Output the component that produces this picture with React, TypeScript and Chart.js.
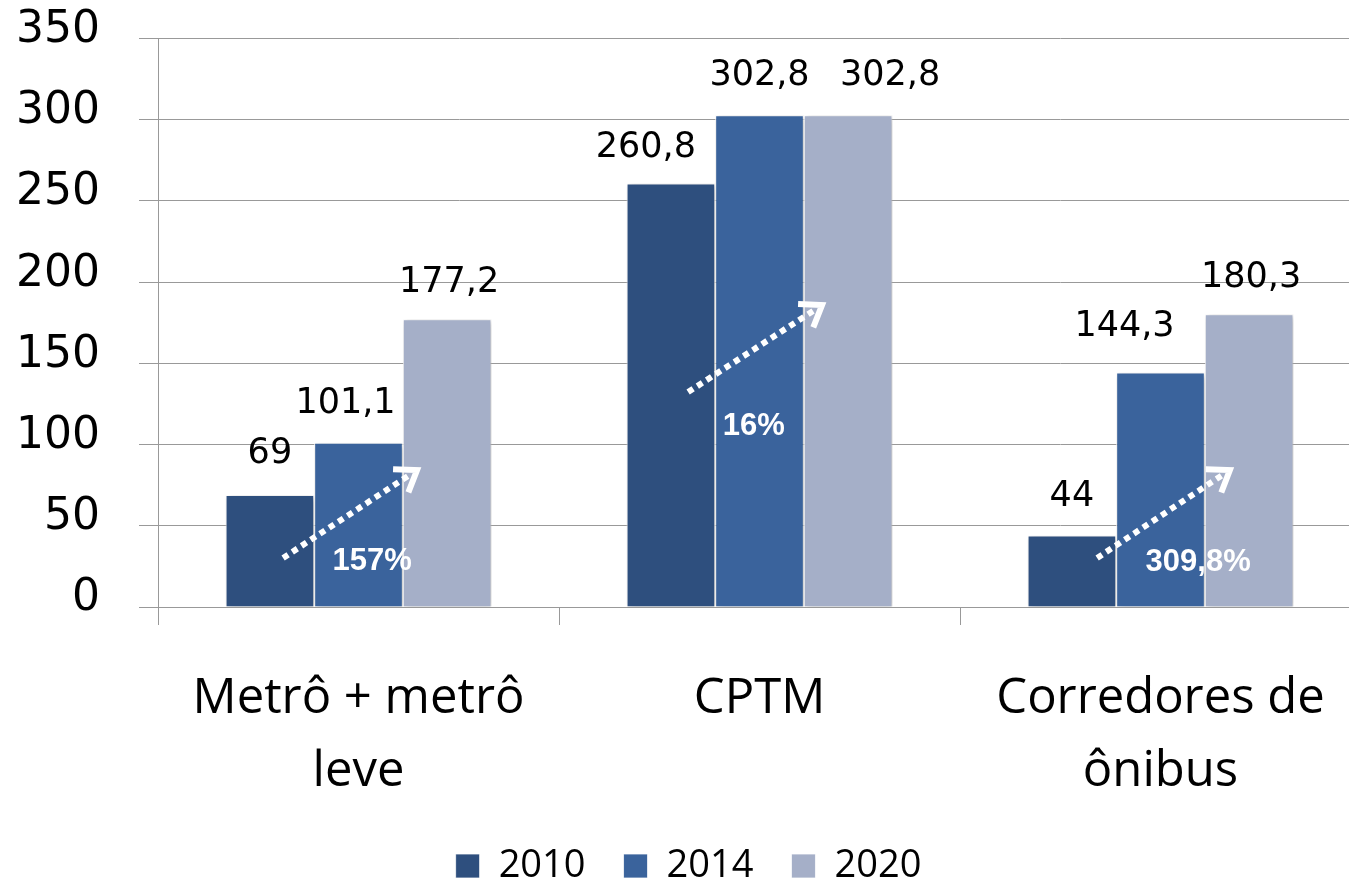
import React, { useEffect, useRef } from "react";
import { Chart, registerables } from "chart.js";

Chart.register(...registerables);

// ---------- data ----------
const CATEGORIES: string[][] = [["Metrô + metrô", "leve"], ["CPTM"], ["Corredores de", "ônibus"]];
const SERIES_NAMES = ["2010", "2014", "2020"];
const VALUES_2010 = [69, 260.8, 44];
const VALUES_2014 = [101.1, 302.8, 144.3];
const VALUES_2020 = [177.2, 302.8, 180.3];
const SERIES_COLORS = ["#2E4F7E", "#3A639C", "#A5AFC8"];
const Y_TICKS = [0, 50, 100, 150, 200, 250, 300, 350];
const GROWTH_LABELS = ["157%", "16%", "309,8%"];

// ---------- annotation layout (offsets, not data) ----------
const LABEL_DX = [
  [0, -25, 0],
  [-13, 0, -36],
  [2, 42, 2],
];
const LABEL_GAP = [
  [32, 26, 30],
  [30, 30, 37],
  [27, 30, 27],
];
const ARROW_FROM_DX = [-0.188, -0.178, -0.158];
const ARROW_FROM_Y = [30.2, 132.3, 30.2];
const ARROW_TO_DX = [0.146, 0.156, 0.173];
const ARROW_TO_Y = [84.3, 185.9, 84.3];
const PCT_DX = [0.034, -0.014, 0.094];
const PCT_Y = [28.3, 111.4, 27.7];

const fmt = (v: number) => String(v).replace(".", ",");

const shadowPlugin = {
  id: "barShadow",
  beforeDatasetsDraw(chart: any) {
    const ctx = chart.ctx;
    ctx.save();
    ctx.shadowColor = "rgba(0,0,0,0.28)";
    ctx.shadowBlur = 6;
    ctx.shadowOffsetX = 2;
    ctx.shadowOffsetY = 2;
  },
  afterDatasetsDraw(chart: any) {
    chart.ctx.restore();
  },
};

const annotationPlugin = {
  id: "annotations",
  afterDraw(chart: any) {
    const ctx: CanvasRenderingContext2D = chart.ctx;
    const xs = chart.scales.x;
    const ys = chart.scales.y;
    ctx.save();
    ctx.font = '35px "DejaVu Sans"';
    ctx.textAlign = "center";
    ctx.textBaseline = "alphabetic";
    ctx.fillStyle = "#000";
    chart.data.datasets.forEach((ds: any, di: number) => {
      const meta = chart.getDatasetMeta(di);
      meta.data.forEach((bar: any, i: number) => {
        const p = bar.getProps(["x", "y"], true);
        ctx.fillText(fmt(ds.data[i]), p.x + LABEL_DX[di][i], p.y - LABEL_GAP[di][i]);
      });
    });
    ctx.restore();

    const catW = (xs.right - xs.left) / CATEGORIES.length;
    for (let i = 0; i < CATEGORIES.length; i++) {
      const cx = xs.getPixelForValue(i);
      const x1 = cx + ARROW_FROM_DX[i] * catW;
      const y1 = ys.getPixelForValue(ARROW_FROM_Y[i]);
      const x2 = cx + ARROW_TO_DX[i] * catW;
      const y2 = ys.getPixelForValue(ARROW_TO_Y[i]);
      const ang = Math.atan2(y2 - y1, x2 - x1);
      ctx.save();
      ctx.strokeStyle = "#fff";
      ctx.lineWidth = 6;
      ctx.setLineDash([6, 5]);
      ctx.beginPath();
      ctx.moveTo(x1, y1);
      ctx.lineTo(x2 - 8 * Math.cos(ang), y2 - 8 * Math.sin(ang));
      ctx.stroke();
      ctx.setLineDash([]);
      ctx.lineJoin = "miter";
      ctx.miterLimit = 10;
      const hl = 24;
      const spread = 0.62;
      ctx.beginPath();
      ctx.moveTo(x2 - hl * Math.cos(ang - spread), y2 - hl * Math.sin(ang - spread));
      ctx.lineTo(x2, y2);
      ctx.lineTo(x2 - hl * Math.cos(ang + spread), y2 - hl * Math.sin(ang + spread));
      ctx.stroke();
      ctx.fillStyle = "#fff";
      ctx.font = 'bold 31px "Liberation Sans"';
      ctx.textAlign = "center";
      ctx.textBaseline = "middle";
      ctx.fillText(GROWTH_LABELS[i], cx + PCT_DX[i] * catW, ys.getPixelForValue(PCT_Y[i]));
      ctx.restore();
    }
  },
};

export default function App() {
  const ref = useRef<HTMLCanvasElement | null>(null);

  useEffect(() => {
    if (!ref.current) return;
    const seriesValues = [VALUES_2010, VALUES_2014, VALUES_2020];
    const chart = new Chart(ref.current, {
      type: "bar",
      data: {
        labels: CATEGORIES,
        datasets: SERIES_NAMES.map((name, i) => ({
          label: name,
          data: seriesValues[i],
          backgroundColor: SERIES_COLORS[i],
          borderColor: "#ffffff",
          borderWidth: { top: 1, left: 1, right: 1, bottom: 0 },
          borderSkipped: "start",
          categoryPercentage: 0.663,
          barPercentage: 1,
        })),
      },
      options: {
        responsive: false,
        animation: false,
        devicePixelRatio: 1,
        layout: { padding: { left: 16, top: 38.5, right: 21, bottom: 0 } },
        plugins: {
          legend: {
            position: "bottom",
            labels: {
              font: { family: '"Open Sans"', size: 38 },
              color: "#000",
              boxWidth: 24,
              boxHeight: 24,
              padding: 38,
            },
          },
          tooltip: { enabled: false },
        },
        scales: {
          x: {
            grid: { offset: true, drawOnChartArea: false, tickLength: 18, color: "#999" },
            border: { color: "#999" },
            ticks: {
              font: { family: '"Open Sans"', size: 49, lineHeight: 1.49 },
              color: "#000",
              padding: 38,
              maxRotation: 0,
              minRotation: 0,
              autoSkip: false,
            },
            afterFit: (scale: any) => {
              scale.height = 202;
              scale.paddingLeft = 0;
              scale.paddingRight = 0;
            },
          },
          y: {
            min: 0,
            max: 350,
            afterBuildTicks: (scale: any) => {
              scale.ticks = Y_TICKS.map((v) => ({ value: v }));
            },
            ticks: {
              font: { family: '"DejaVu Sans"', size: 44 },
              color: "#000",
              padding: 39,
              labelOffset: -8,
            },
            grid: { color: "#999", tickLength: 19 },
            border: { color: "#999" },
            afterFit: (scale: any) => {
              scale.width = 142;
              scale.paddingTop = 0;
              scale.paddingBottom = 0;
            },
          },
        },
      },
      plugins: [shadowPlugin, annotationPlugin],
    } as any);
    return () => chart.destroy();
  }, []);

  return (
    <div
      style={{
        position: "absolute",
        left: 0,
        top: 0,
        width: 1349,
        height: 885,
        overflow: "hidden",
        background: "#fff",
      }}
    >
      <canvas ref={ref} width={1382} height={895} style={{ display: "block" }} />
    </div>
  );
}
